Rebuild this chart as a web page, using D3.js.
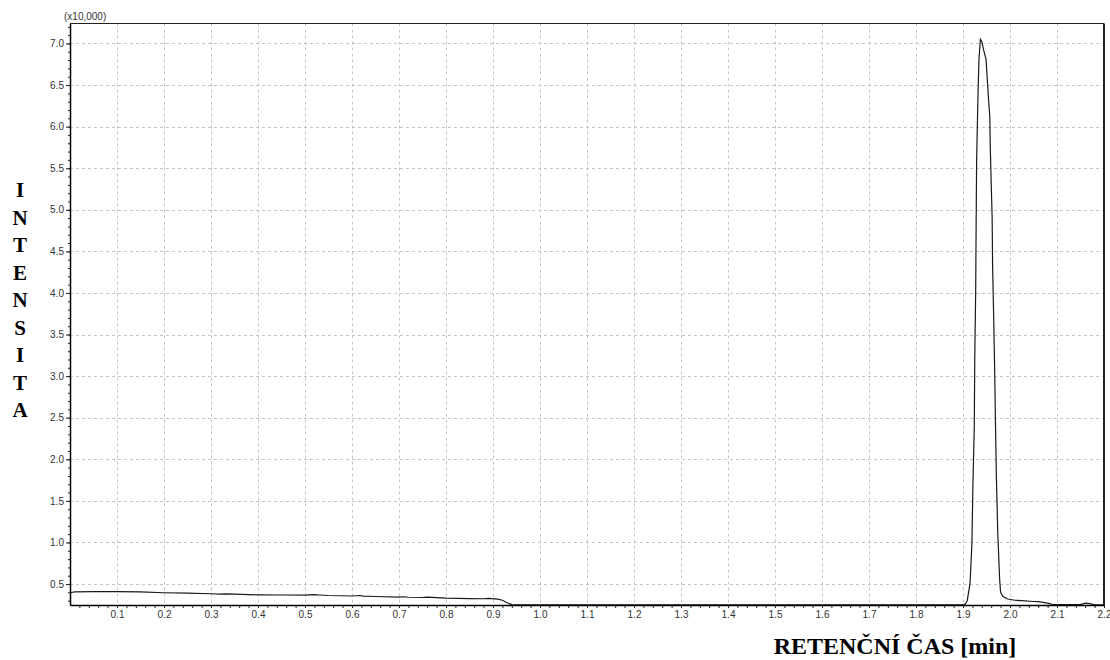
<!DOCTYPE html>
<html>
<head>
<meta charset="utf-8">
<script src="https://cdn.jsdelivr.net/npm/d3@7"></script>
<style>
  body { margin: 0; background: #fff; }
  svg { display: block; }
</style>
</head>
<body>
<svg id="chart"></svg>
<script>
        // chromatogram data, time in min, intensity in x10,000
        var times = [
            0.000, 0.010, 0.050, 0.100, 0.150, 0.200, 0.250, 0.300, 0.320, 0.330,
            0.350, 0.400, 0.450, 0.500, 0.520, 0.530, 0.550, 0.600, 0.615, 0.625,
            0.650, 0.700, 0.710, 0.720, 0.750, 0.760, 0.800, 0.850, 0.880, 0.890,
            0.910, 0.920, 0.930, 0.940, 1.000, 1.500, 1.900, 1.905, 1.909, 1.915,
            1.919, 1.921, 1.924, 1.925, 1.927, 1.928, 1.929, 1.932, 1.934, 1.937,
            1.940, 1.944, 1.949, 1.954, 1.957, 1.958, 1.960, 1.962, 1.963, 1.965,
            1.967, 1.969, 1.971, 1.974, 1.978, 1.980, 1.985, 1.995, 2.010, 2.025,
            2.050, 2.060, 2.070, 2.080, 2.090, 2.100, 2.150, 2.160, 2.170, 2.180,
            2.200
        ];
        var intensity = [
            0.395, 0.405, 0.408, 0.410, 0.405, 0.395, 0.390, 0.383, 0.378, 0.382,
            0.378, 0.370, 0.368, 0.366, 0.372, 0.368, 0.362, 0.356, 0.362, 0.355,
            0.350, 0.342, 0.347, 0.341, 0.338, 0.343, 0.330, 0.325, 0.323, 0.328,
            0.318, 0.305, 0.275, 0.252, 0.250, 0.250, 0.250, 0.260, 0.300, 0.510,
            0.990, 1.670, 2.390, 3.190, 4.030, 4.870, 5.600, 6.400, 6.810, 7.050,
            7.020, 6.920, 6.810, 6.360, 6.120, 5.760, 5.320, 4.910, 4.310, 3.790,
            3.190, 2.470, 1.790, 1.110, 0.550, 0.400, 0.350, 0.320, 0.305, 0.300,
            0.290, 0.288, 0.280, 0.270, 0.255, 0.252, 0.252, 0.270, 0.265, 0.250,
            0.250
        ];

        // tick labels
        var xTicks = [0.1, 0.2, 0.3, 0.4, 0.5, 0.6, 0.7, 0.8, 0.9, 1.0, 1.1,
                      1.2, 1.3, 1.4, 1.5, 1.6, 1.7, 1.8, 1.9, 2.0, 2.1, 2.2];
        var yTicks = [0.5, 1.0, 1.5, 2.0, 2.5, 3.0, 3.5, 4.0, 4.5, 5.0, 5.5, 6.0, 6.5, 7.0];
        var yTitle = "INTENSITA";
        var xTitle = "RETENČNÍ ČAS [min]";
        var yUnit = "(x10,000)";

        var width = 1110,
            height = 660;
        var plotLeft = 70,
            plotRight = 1104,
            plotTop = 23.5,
            plotBottom = 605;

        var chart = d3.select('#chart')
            .attr('width', width)
            .attr('height', height);

        var xScale = d3.scaleLinear()
            .domain([0, 2.2])
            .range([plotLeft, plotRight]);

        var yScale = d3.scaleLinear()
            .domain([0.248, 7.24])
            .range([plotBottom, plotTop]);

        // dashed grid
        var grid = chart.append('g').attr('id', 'grid');
        grid.selectAll('.vgrid')
            .data(xTicks.filter(function(d) { return d < 2.2; }))
            .enter().append('line')
            .attr('x1', function(d) { return Math.round(xScale(d)) + 0.5; })
            .attr('x2', function(d) { return Math.round(xScale(d)) + 0.5; })
            .attr('y1', plotTop)
            .attr('y2', plotBottom)
            .attr('stroke', '#c4c4c4')
            .attr('stroke-dasharray', '3,3');
        grid.selectAll('.hgrid')
            .data(yTicks)
            .enter().append('line')
            .attr('x1', plotLeft)
            .attr('x2', plotRight)
            .attr('y1', function(d) { return Math.round(yScale(d)) + 0.5; })
            .attr('y2', function(d) { return Math.round(yScale(d)) + 0.5; })
            .attr('stroke', '#c4c4c4')
            .attr('stroke-dasharray', '3,3');

        // frame top and right
        chart.append('line')
            .attr('x1', plotLeft).attr('x2', plotRight)
            .attr('y1', plotTop).attr('y2', plotTop)
            .attr('stroke', '#222');
        chart.append('line')
            .attr('x1', plotRight).attr('x2', plotRight)
            .attr('y1', plotTop).attr('y2', plotBottom)
            .attr('stroke', '#222')
            .attr('stroke-width', 2);

        // the trace
        var points = times.map(function(t, i) { return [t, intensity[i]]; });
        var line = d3.line()
            .x(function(d) { return xScale(d[0]); })
            .y(function(d) { return yScale(d[1]); });
        chart.append('path')
            .datum(points)
            .attr('fill', 'none')
            .attr('stroke', '#1a1a1a')
            .attr('stroke-width', 1.2)
            .attr('d', line);

        // minor ticks
        chart.append('g')
            .attr('transform', 'translate(' + plotLeft + ',0)')
            .call(d3.axisLeft(yScale).tickValues(d3.range(3, 73).map(function(v) { return v / 10; }))
                .tickSize(2).tickSizeOuter(0).tickFormat(''))
            .call(function(g) { g.select('.domain').remove(); });
        chart.append('g')
            .attr('transform', 'translate(0,' + plotBottom + ')')
            .call(d3.axisBottom(xScale).tickValues(d3.range(1, 111).map(function(v) { return v / 50; }))
                .tickSize(3).tickSizeOuter(0).tickFormat(''))
            .call(function(g) { g.select('.domain').remove(); });

        // y axis
        var yAxis = chart.append('g')
            .attr('id', 'y-axis')
            .attr('transform', 'translate(' + plotLeft + ',0)')
            .call(d3.axisLeft(yScale).tickValues(yTicks).tickSize(4).tickSizeOuter(0)
                .tickPadding(2).tickFormat(d3.format('.1f')));
        yAxis.selectAll('text')
            .attr('font-family', 'Liberation Sans, Arial, sans-serif')
            .attr('font-size', 10)
            .attr('fill', '#333');

        // x axis
        var xAxis = chart.append('g')
            .attr('id', 'x-axis')
            .attr('transform', 'translate(0,' + plotBottom + ')')
            .call(d3.axisBottom(xScale).tickValues(xTicks).tickSize(3).tickSizeOuter(0)
                .tickPadding(3).tickFormat(d3.format('.1f')));
        xAxis.selectAll('text')
            .attr('font-family', 'Liberation Sans, Arial, sans-serif')
            .attr('font-size', 10)
            .attr('fill', '#333');

        chart.selectAll('.domain').attr('stroke', '#000').attr('stroke-width', 1.5);
        chart.selectAll('.tick line').attr('stroke', '#222');

        // unit label above the y axis
        chart.append('text')
            .attr('x', 64)
            .attr('y', 20)
            .attr('font-family', 'Liberation Sans, Arial, sans-serif')
            .attr('font-size', 10)
            .attr('fill', '#333')
            .text(yUnit);

        // stacked y title
        chart.append('g')
            .selectAll('text')
            .data(yTitle.split(''))
            .enter().append('text')
            .attr('x', 20)
            .attr('y', function(d, i) { return 197 + i * 27.5; })
            .attr('text-anchor', 'middle')
            .attr('font-family', 'Liberation Serif, Times New Roman, serif')
            .attr('font-weight', 'bold')
            .attr('font-size', 21)
            .attr('fill', '#000')
            .text(function(d) { return d; });

        // x title
        chart.append('text')
            .attr('x', 895)
            .attr('y', 654)
            .attr('text-anchor', 'middle')
            .attr('font-family', 'Liberation Serif, Times New Roman, serif')
            .attr('font-weight', 'bold')
            .attr('font-size', 24)
            .attr('fill', '#000')
            .text(xTitle);
</script>
</body>
</html>
